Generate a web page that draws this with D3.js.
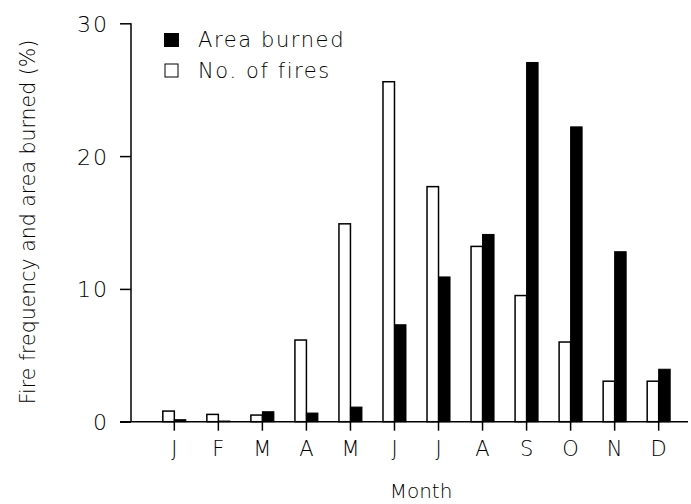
<!DOCTYPE html>
<html>
<head>
<meta charset="utf-8">
<script src="https://cdn.jsdelivr.net/npm/d3@7"></script>
<style>
  html, body { margin: 0; padding: 0; background: #fff; }
  svg { display: block; }
  text { font-family: "DejaVu Sans", "Liberation Sans", Arial, sans-serif; font-weight: 200; fill: #000; }
</style>
</head>
<body>
<svg id="chart" width="691" height="504"></svg>
<script>
// Monthly share of fires and of area burned (%)
const months = ["J", "F", "M", "A", "M", "J", "J", "A", "S", "O", "N", "D"];
const numFires   = [0.8, 0.55, 0.5, 6.15, 14.9, 25.6, 17.7, 13.2, 9.5, 6.0, 3.05, 3.05];
const areaBurned = [0.15, 0.05, 0.75, 0.65, 1.1, 7.3, 10.9, 14.1, 27.05, 22.2, 12.8, 3.95];
const yTicks = [0, 10, 20, 30];
const seriesNames = ["No. of fires", "Area burned"];

const svg = d3.select("#chart");

const x = d3.scaleBand()
  .domain(d3.range(months.length))
  .range([152.3, 680.7])
  .padding(0);

const y = d3.scaleLinear().domain([0, 30]).range([421.7, 23.3]);

const barW = 11.5;
const xSub = d3.scaleBand()
  .domain(seriesNames)
  .range([x.bandwidth() / 2 - barW, x.bandwidth() / 2 + barW]);

const rows = months.map((m, i) => ({ i, m, fires: numFires[i], area: areaBurned[i] }));

// bars: open = number of fires, filled = area burned
const g = svg.append("g");
g.selectAll("rect.fires").data(rows).join("rect")
  .attr("class", "fires")
  .attr("x", d => x(d.i) + xSub("No. of fires"))
  .attr("y", d => y(d.fires))
  .attr("width", xSub.bandwidth())
  .attr("height", d => y(0) - y(d.fires))
  .attr("fill", "#fff")
  .attr("stroke", "#000")
  .attr("stroke-width", 1.5);

g.selectAll("rect.area").data(rows).join("rect")
  .attr("class", "area")
  .attr("x", d => x(d.i) + xSub("Area burned"))
  .attr("y", d => y(d.area))
  .attr("width", xSub.bandwidth())
  .attr("height", d => y(0) - y(d.area))
  .attr("fill", "#000")
  .attr("stroke", "#000")
  .attr("stroke-width", 1);

// y axis
const yAxis = d3.axisLeft(y).tickValues(yTicks).tickSize(11).tickPadding(11);
const yg = svg.append("g").attr("transform", "translate(131,0)").call(yAxis);
yg.select(".domain").attr("d", `M0,${y(0)}V${y(30)}`).attr("stroke-width", 1.5);
yg.selectAll(".tick line").attr("stroke-width", 1.5);
yg.selectAll(".tick text")
  .attr("font-size", 22)
  .attr("letter-spacing", 2)
  .attr("dy", "0.36em")
  .style("font-family", "'DejaVu Sans', sans-serif")
  .style("font-weight", 200);

// x axis: baseline across the whole plot, ticks at bar-pair centres
const xAxis = d3.axisBottom(x).tickFormat(i => months[i]).tickSize(9).tickPadding(10);
const xg = svg.append("g").attr("transform", `translate(0,${y(0)})`).call(xAxis);
xg.select(".domain").attr("d", "M120,0H688").attr("stroke-width", 1.5);
xg.selectAll(".tick line").attr("stroke-width", 1.5);
xg.selectAll(".tick text")
  .attr("font-size", 21)
  .attr("dy", "0.71em")
  .style("font-family", "'DejaVu Sans', sans-serif")
  .style("font-weight", 200);

// axis titles
svg.append("text")
  .attr("x", 421).attr("y", 498)
  .attr("text-anchor", "middle")
  .attr("font-size", 20)
  .text("Month");

svg.append("text")
  .attr("transform", "translate(35,222) rotate(-90)")
  .attr("text-anchor", "middle")
  .attr("font-size", 20.5)
  .text("Fire frequency and area burned (%)");

// legend
const legend = svg.append("g");
legend.append("rect").attr("x", 164).attr("y", 33).attr("width", 15).attr("height", 14).attr("fill", "#000");
legend.append("text").attr("x", 198).attr("y", 47).attr("font-size", 21).attr("letter-spacing", 1.6).text("Area burned");
legend.append("rect").attr("x", 165).attr("y", 64).attr("width", 13).attr("height", 13)
  .attr("fill", "#fff").attr("stroke", "#000").attr("stroke-width", 1);
legend.append("text").attr("x", 198).attr("y", 78).attr("font-size", 21).attr("letter-spacing", 1.6).text("No. of fires");
</script>
</body>
</html>
